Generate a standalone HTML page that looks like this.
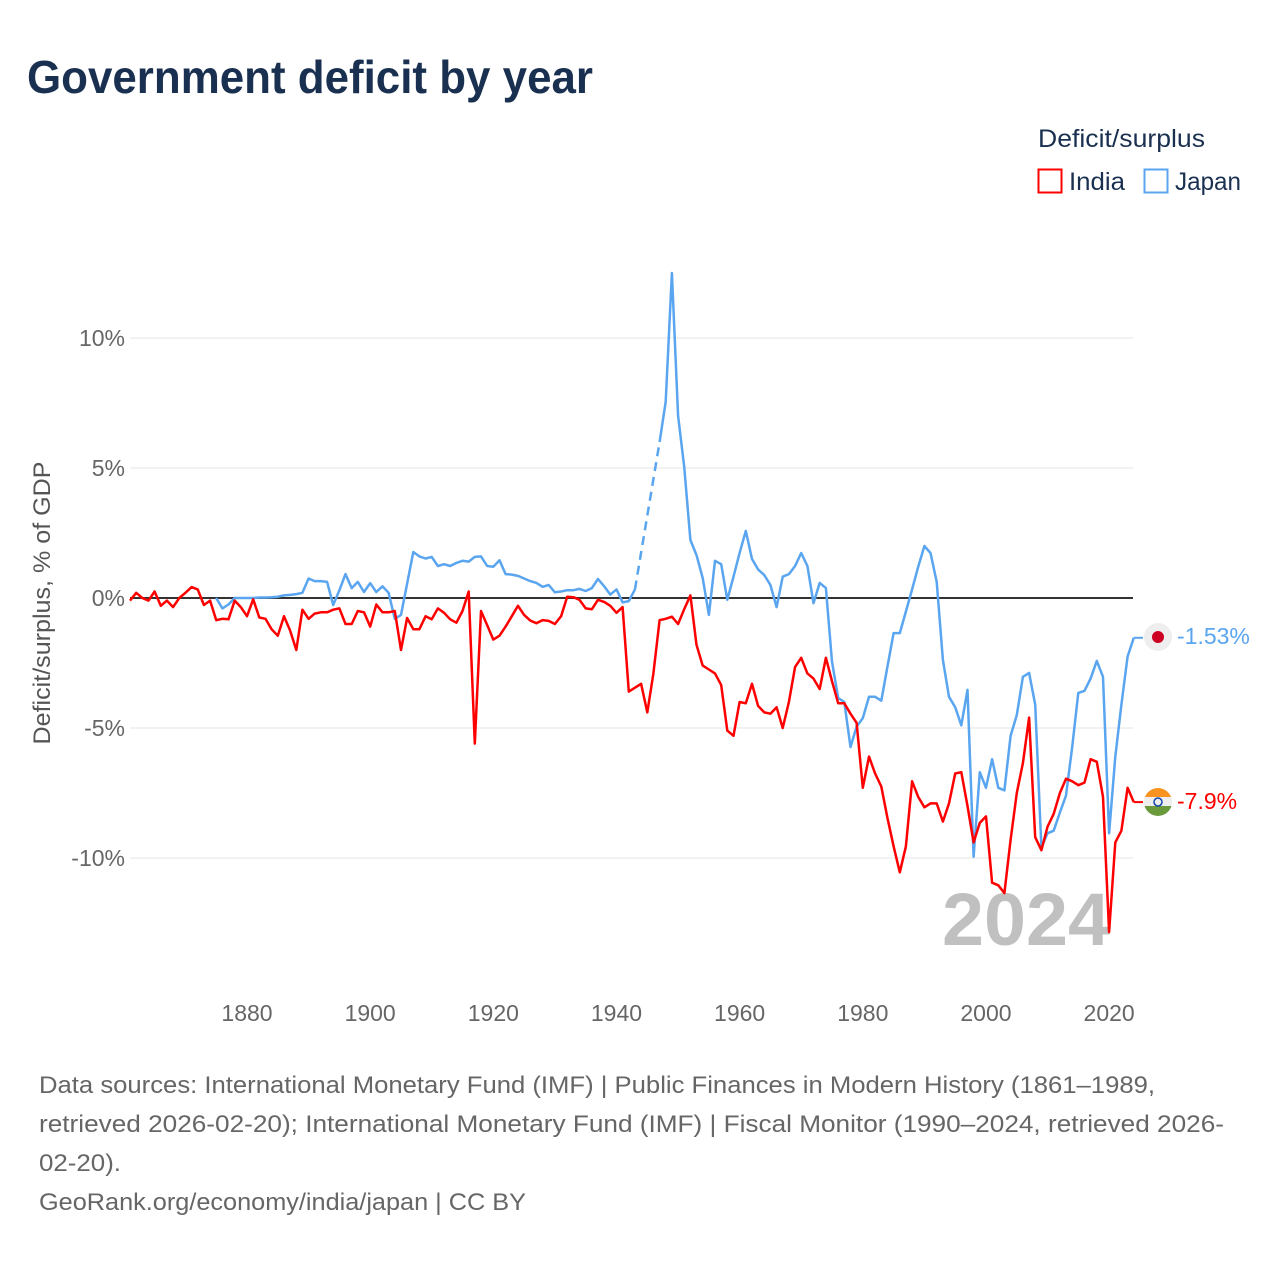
<!DOCTYPE html>
<html><head><meta charset="utf-8"><style>
body{margin:0;background:#fff}
svg{display:block;font-family:"Liberation Sans",sans-serif}
</style></head><body>
<svg id="chart" width="1280" height="1280" viewBox="0 0 1280 1280">
<text x="27" y="93" font-size="46" font-weight="bold" fill="#1a3050" textLength="566" lengthAdjust="spacingAndGlyphs">Government deficit by year</text>
<text x="1038" y="147" font-size="25" fill="#1a3050" textLength="167" lengthAdjust="spacingAndGlyphs">Deficit/surplus</text>
<g><rect x="1038.5" y="169.5" width="23" height="23" fill="none" stroke="#f00" stroke-width="2"/><text x="1069" y="190" font-size="25" fill="#1a3050" textLength="56" lengthAdjust="spacingAndGlyphs">India</text></g>
<g><rect x="1144.5" y="169.5" width="23" height="23" fill="none" stroke="#5aa5ef" stroke-width="2"/><text x="1175" y="190" font-size="25" fill="#1a3050" textLength="66" lengthAdjust="spacingAndGlyphs">Japan</text></g>
<text transform="translate(50,603) rotate(-90)" text-anchor="middle" font-size="24" fill="#555" textLength="283" lengthAdjust="spacingAndGlyphs">Deficit/surplus, % of GDP</text>
<g id="grid"></g><g id="yt"></g><g id="xt"></g>
<text x="1110" y="945" text-anchor="end" font-size="74" font-weight="bold" fill="#c0c0c0" textLength="168" lengthAdjust="spacingAndGlyphs">2024</text>
<g id="series"></g>
<g><circle cx="1158" cy="637" r="14" fill="#eee"/><circle cx="1158" cy="637" r="6" fill="#cc0022"/></g>
<g><clipPath id="fc"><circle cx="1158" cy="802" r="14"/></clipPath><g clip-path="url(#fc)"><rect x="1144" y="788" width="28" height="10" fill="#f7931e"/><rect x="1144" y="797" width="28" height="10" fill="#eee"/><rect x="1144" y="806" width="28" height="10" fill="#6b9a3c"/></g><circle cx="1158" cy="802" r="4" fill="none" stroke="#1144aa" stroke-width="1.5"/></g>
<g font-size="24" fill="#666">
<text x="39" y="1093" textLength="1116" lengthAdjust="spacingAndGlyphs">Data sources: International Monetary Fund (IMF) | Public Finances in Modern History (1861–1989,</text>
<text x="39" y="1132" textLength="1185" lengthAdjust="spacingAndGlyphs">retrieved 2026-02-20); International Monetary Fund (IMF) | Fiscal Monitor (1990–2024, retrieved 2026-</text>
<text x="39" y="1171" textLength="82" lengthAdjust="spacingAndGlyphs">02-20).</text>
<text x="39" y="1210" textLength="487" lengthAdjust="spacingAndGlyphs">GeoRank.org/economy/india/japan | CC BY</text>
</g>
</svg>
<script>
const startYear = 1861;
const yTicks = [10, 5, 0, -5, -10];
const yTickLabels = ["10%", "5%", "0%", "-5%", "-10%"];
const xTicks = [1880, 1900, 1920, 1940, 1960, 1980, 2000, 2020];
const india = [-0.1,0.2,0,-0.1,0.25,-0.3,-0.1,-0.35,0,0.2,0.42,0.33,-0.27,-0.1,-0.85,-0.8,-0.82,-0.1,-0.35,-0.7,
-0.05,-0.75,-0.8,-1.2,-1.45,-0.7,-1.25,-2.0,-0.45,-0.8,-0.6,-0.55,-0.55,-0.45,-0.4,-1.0,-1.0,-0.5,-0.55,-1.1,
-0.25,-0.55,-0.55,-0.5,-2.0,-0.77,-1.2,-1.2,-0.7,-0.82,-0.4,-0.57,-0.82,-0.95,-0.5,0.25,-5.6,-0.5,-1.05,-1.6,
-1.45,-1.1,-0.7,-0.3,-0.65,-0.87,-0.97,-0.85,-0.88,-1.0,-0.7,0.05,0.03,-0.07,-0.4,-0.43,-0.07,-0.15,-0.3,-0.57,
-0.35,-3.6,-3.45,-3.3,-4.4,-2.9,-0.85,-0.8,-0.72,-1.0,-0.43,0.1,-1.8,-2.6,-2.75,-2.9,-3.35,-5.1,-5.3,-4.0,
-4.05,-3.3,-4.15,-4.4,-4.45,-4.2,-5.0,-4.0,-2.65,-2.3,-2.9,-3.1,-3.5,-2.3,-3.2,-4.05,-4.05,-4.45,-4.8,-7.3,
-6.1,-6.75,-7.25,-8.45,-9.55,-10.55,-9.55,-7.05,-7.65,-8.05,-7.9,-7.9,-8.6,-7.9,-6.75,-6.7,-8.0,-9.4,-8.65,-8.4,
-10.95,-11.05,-11.35,-9.3,-7.5,-6.35,-4.6,-9.2,-9.7,-8.8,-8.3,-7.5,-6.95,-7.05,-7.2,-7.1,-6.2,-6.3,-7.65,-12.85,
-9.4,-8.95,-7.3,-7.85];
const japanStart = 1875;
const japan = [0,-0.4,-0.25,0,0,0,0,0.02,0.02,0.03,0.05,0.1,0.12,0.15,0.2,0.75,0.65,0.65,0.62,-0.27,
0.3,0.92,0.38,0.62,0.23,0.57,0.23,0.45,0.2,-0.8,-0.65,0.55,1.77,1.6,1.52,1.58,1.23,1.3,1.23,1.35,
1.43,1.4,1.58,1.6,1.23,1.2,1.45,0.92,0.9,0.85,0.75,0.65,0.58,0.43,0.5,0.22,0.25,0.3,0.3,0.35,
0.27,0.38,0.73,0.45,0.13,0.33,-0.17,-0.12,0.33,null,null,null,6.0,7.55,12.5,7.0,5.05,2.23,1.65,0.77,
-0.65,1.43,1.3,-0.07,0.82,1.73,2.58,1.5,1.1,0.88,0.5,-0.35,0.82,0.92,1.23,1.73,1.23,-0.2,0.58,0.38,
-2.45,-3.85,-4.0,-5.73,-4.95,-4.62,-3.8,-3.8,-3.95,-2.65,-1.35,-1.35,-0.52,0.33,1.2,2.0,1.73,0.62,-2.38,-3.8,
-4.2,-4.9,-3.53,-9.95,-6.7,-7.3,-6.2,-7.3,-7.4,-5.3,-4.5,-3.03,-2.88,-4.1,-9.6,-9.05,-8.95,-8.25,-7.6,-5.73,
-3.65,-3.57,-3.1,-2.42,-3.03,-9.05,-6.1,-4.1,-2.25,-1.53];
const endLabels = ["-1.53%", "-7.9%"];

const NS = "http://www.w3.org/2000/svg";
const X = yr => 130 + (yr - 1861) * 6.158;
const Y = v => 598 - 26 * v;
function mk(tag, attrs, parent){const e=document.createElementNS(NS,tag);for(const k in attrs)e.setAttribute(k,attrs[k]);parent.appendChild(e);return e;}
const grid=document.getElementById('grid'), yt=document.getElementById('yt'), xt=document.getElementById('xt'), ser=document.getElementById('series');
yTicks.forEach((v,i)=>{
  if(v!==0){const l=mk('line',{x1:130,x2:1133,y1:Y(v),y2:Y(v),stroke:'#e6e6e6','stroke-width':1},grid);
  
  }
  const t=mk('text',{x:125,y:Y(v)+8,'text-anchor':'end','font-size':23,fill:'#666'},yt);
  t.textContent=yTickLabels[i];
  
  
});
xTicks.forEach(yr=>{
  const t=mk('text',{x:X(yr),y:1021,'text-anchor':'middle','font-size':23,fill:'#666'},xt);
  t.textContent=yr;
  
  
});
const z=mk('line',{x1:130,x2:1133,y1:Y(0),y2:Y(0),stroke:'#333','stroke-width':2},grid);


function drawSeries(vals,start,color,name){
  let d='',pen=false,lastIdx=null;
  vals.forEach((v,i)=>{
    if(v===null){pen=false;return;}
    const px=X(start+i).toFixed(1),py=Y(v).toFixed(1);
    if(!pen&&lastIdx!==null&&lastIdx!==i-1){
      const g=mk('line',{x1:X(start+lastIdx),y1:Y(vals[lastIdx]),x2:px,y2:py,stroke:color,'stroke-width':2.5,'stroke-dasharray':'9,6'},ser);
      
      
    }
    d+=(pen?'L':'M')+px+','+py;pen=true;lastIdx=i;
  });
  const p=mk('path',{d:d,fill:'none',stroke:color,'stroke-width':2.5,'stroke-linejoin':'round'},ser);
  
  
  return lastIdx;
}
drawSeries(japan,japanStart,'#5aa5ef','japan');
drawSeries(india,startYear,'#ff0000','india');
const jl=mk('line',{x1:X(2024),x2:1143,y1:Y(japan[japan.length-1]),y2:Y(japan[japan.length-1]),stroke:'#5aa5ef','stroke-width':2},ser);


const il=mk('line',{x1:X(2024),x2:1143,y1:Y(india[india.length-1]),y2:Y(india[india.length-1]),stroke:'#f00','stroke-width':2},ser);


const t1=mk('text',{x:1177,y:644,'font-size':23,fill:'#5aa5ef'},ser);
t1.textContent=endLabels[0];


const t2=mk('text',{x:1177,y:809,'font-size':23,fill:'#ff0000'},ser);
t2.textContent=endLabels[1];


</script>
</body></html>
